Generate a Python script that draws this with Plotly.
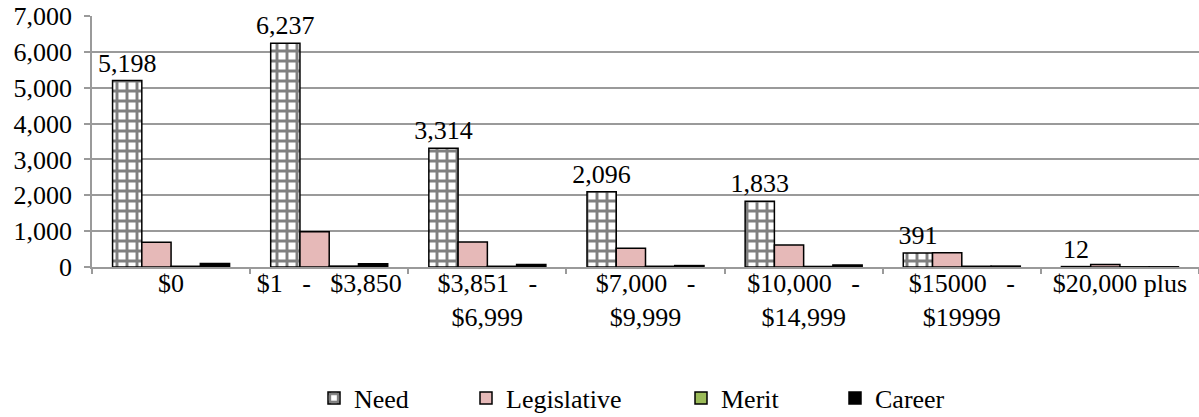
import plotly.graph_objects as go

brackets = ["$0", "$1\u00a0\u00a0\u00a0-\u00a0\u00a0\u00a0$3,850", "$3,851\u00a0\u00a0\u00a0-<br>$6,999",
            "$7,000\u00a0\u00a0\u00a0-<br>$9,999", "$10,000\u00a0\u00a0\u00a0-<br>$14,999",
            "$15000\u00a0\u00a0\u00a0-<br>$19999", "$20,000 plus"]
need = [5198, 6237, 3314, 2096, 1833, 391, 12]
legislative = [690, 985, 697, 525, 613, 399, 70]
merit = [20, 25, 20, 20, 15, 20, 5]
career = [95, 90, 70, 40, 55, 25, 5]

FONT = "Liberation Serif, Times New Roman, serif"
GRID = "#9a9a9a"
FS = 26

fig = go.Figure()

# Dessin
fig.add_trace(go.Bar(
    name="Need", x=brackets, y=need,
    marker=dict(color="white", line=dict(color="black", width=1.5),
                pattern=dict(shape="+", fgcolor="black", bgcolor="white", size=10, solidity=0.5)),
    texttemplate="%{y:,}", textposition="outside", constraintext="none",
    textfont=dict(size=FS, color="black"),
    cliponaxis=False, legend="legend"
))
fig.add_trace(go.Bar(
    name="Legislative", x=brackets, y=legislative,
    marker=dict(color="#E6B9B8", line=dict(color="black", width=1.5)),
    legend="legend2"
))
fig.add_trace(go.Bar(
    name="Merit", x=brackets, y=merit,
    marker=dict(color="#9BBB59", line=dict(color="black", width=1.5)),
    legend="legend3"
))
fig.add_trace(go.Bar(
    name="Career", x=brackets, y=career,
    marker=dict(color="black", line=dict(color="black", width=1.5)),
    legend="legend4"
))

# Légendes placées une par une
def leg(xpx):
    return dict(xref="container", yref="container", x=xpx / 1199, y=1 - 398 / 417,
                xanchor="left", yanchor="middle", orientation="h",
                font=dict(family=FONT, size=FS, color="black"), bgcolor="rgba(0,0,0,0)")

# Habillage
fig.update_layout(
    width=1199, height=417,
    paper_bgcolor="white", plot_bgcolor="white",
    font=dict(family=FONT, size=FS, color="black"),
    margin=dict(t=16, b=150, l=92, r=0),
    barmode="group", bargap=0.26, bargroupgap=0,
    showlegend=True,
    legend=leg(314), legend2=leg(466), legend3=leg(681), legend4=leg(835),
    xaxis=dict(showline=True, linecolor=GRID, linewidth=1.5, ticks="outside", tickson="boundaries",
               ticklen=5, tickcolor=GRID, tickwidth=1.5, showgrid=False, automargin=False,
               tickangle=0, ticklabelstandoff=-8, tickfont=dict(size=FS)),
    yaxis=dict(range=[0, 7000], dtick=1000, tickformat=",", showline=True, linecolor=GRID, linewidth=1.5,
               ticks="outside", ticklen=6, tickcolor=GRID, tickwidth=1.5, showgrid=True,
               gridcolor=GRID, gridwidth=1.5, zeroline=False, automargin=False,
               ticklabelstandoff=7, tickfont=dict(size=FS)),
)

fig.write_html("out.html", config={"displayModeBar": False},
               post_script="document.body.style.margin='0';")
